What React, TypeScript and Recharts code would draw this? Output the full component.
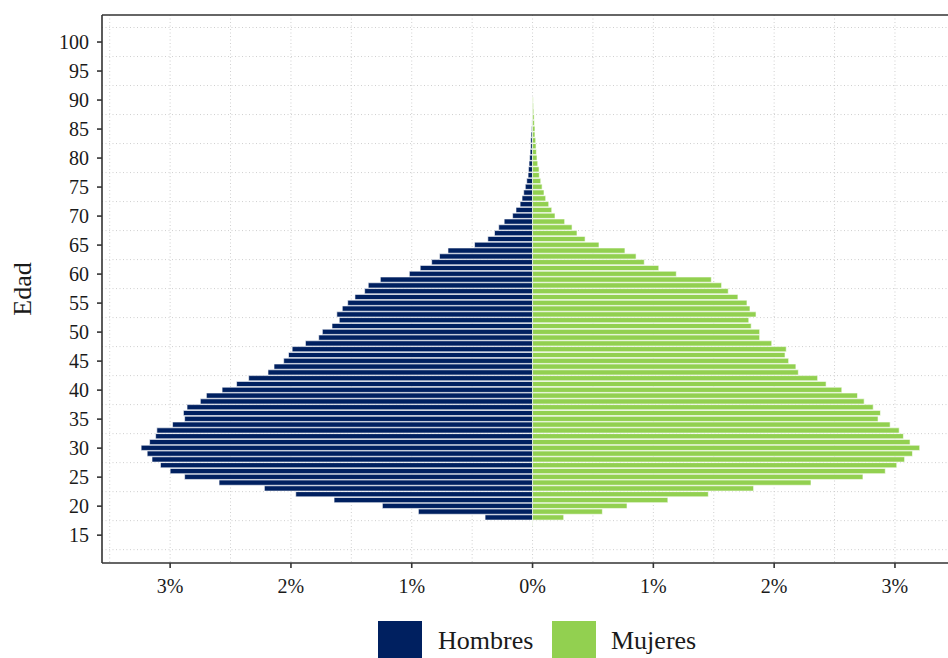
import React from 'react';
import { BarChart, Bar, XAxis, YAxis, ReferenceLine, CartesianGrid } from 'recharts';

const ages = [17, 18, 19, 20, 21, 22, 23, 24, 25, 26, 27, 28, 29, 30, 31, 32, 33, 34, 35, 36, 37, 38, 39, 40, 41, 42, 43, 44, 45, 46, 47, 48, 49, 50, 51, 52, 53, 54, 55, 56, 57, 58, 59, 60, 61, 62, 63, 64, 65, 66, 67, 68, 69, 70, 71, 72, 73, 74, 75, 76, 77, 78, 79, 80, 81, 82, 83, 84, 85, 86, 87, 88, 89, 90];

const hombres = [0.003, 0.393, 0.945, 1.243, 1.643, 1.96, 2.22, 2.595, 2.88, 3.0, 3.08, 3.15, 3.19, 3.24, 3.17, 3.12, 3.11, 2.98, 2.88, 2.89, 2.86, 2.75, 2.7, 2.57, 2.45, 2.35, 2.19, 2.14, 2.06, 2.02, 1.99, 1.88, 1.77, 1.74, 1.66, 1.6, 1.62, 1.575, 1.53, 1.47, 1.39, 1.36, 1.26, 1.02, 0.93, 0.835, 0.77, 0.7, 0.48, 0.37, 0.315, 0.28, 0.235, 0.165, 0.137, 0.103, 0.087, 0.073, 0.06, 0.048, 0.037, 0.034, 0.029, 0.024, 0.02, 0.015, 0.015, 0.012, 0.008, 0.005, 0.003, 0.002, 0.001, 0.0005];

const mujeres = [0.003, 0.258, 0.578, 0.782, 1.12, 1.455, 1.83, 2.305, 2.735, 2.92, 3.015, 3.08, 3.145, 3.205, 3.125, 3.07, 3.035, 2.96, 2.86, 2.88, 2.82, 2.745, 2.69, 2.56, 2.43, 2.36, 2.2, 2.18, 2.12, 2.09, 2.1, 1.98, 1.88, 1.88, 1.81, 1.79, 1.85, 1.8, 1.775, 1.7, 1.62, 1.565, 1.48, 1.19, 1.045, 0.925, 0.857, 0.765, 0.55, 0.435, 0.368, 0.327, 0.266, 0.186, 0.159, 0.134, 0.109, 0.095, 0.079, 0.068, 0.056, 0.054, 0.043, 0.037, 0.032, 0.029, 0.026, 0.02, 0.02, 0.015, 0.013, 0.01, 0.008, 0.005];

const xTicks = [-3, -2, -1, 0, 1, 2, 3];
const yTicks = [15, 20, 25, 30, 35, 40, 45, 50, 55, 60, 65, 70, 75, 80, 85, 90, 95, 100];
const xGrid = [-3.5, -3, -2.5, -2, -1.5, -1, -0.5, 0, 0.5, 1, 1.5, 2, 2.5, 3];
const yGrid = [12.5, 15, 17.5, 20, 22.5, 25, 27.5, 30, 32.5, 35, 37.5, 40, 42.5, 45, 47.5, 50, 52.5, 55, 57.5, 60, 62.5, 65, 67.5, 70, 72.5, 75, 77.5, 80, 82.5, 85, 87.5, 90, 92.5, 95, 97.5, 100, 102.5];

const seriesNames = ['Hombres', 'Mujeres'];
const seriesColors = ['#002060', '#92D050'];

const X_DOMAIN: [number, number] = [-3.564, 3.497];
const Y_DOMAIN: [number, number] = [10.2, 104.66];

const data = ages.map((a, i) => ({ edad: a, hombres: -hombres[i], mujeres: mujeres[i] }));

const FONT = '"Liberation Serif", "Times New Roman", serif';
const TEXT = '#1a1a1a';
const AXIS = '#333333';
const GRID = '#cfcfcf';

export default function App() {
  return (
    <div style={{ position: 'relative', width: 948, height: 658, overflow: 'hidden', background: '#fff' }}>
      <style>{`html,body{margin:0;padding:0;overflow:hidden;background:#fff}`}</style>
      <BarChart
        width={960}
        height={658}
        data={data}
        layout="vertical"
        stackOffset="sign"
        barCategoryGap={0}
        margin={{ top: 15, right: 5, bottom: 0, left: 0 }}
      >
        <CartesianGrid
          horizontalValues={yGrid}
          verticalValues={xGrid}
          stroke={GRID}
          strokeWidth={1}
          strokeDasharray="1 2.5"
        />
        <XAxis
          type="number"
          domain={X_DOMAIN}
          allowDataOverflow
          ticks={xTicks}
          tickFormatter={(v: number) => `${Math.abs(Math.round(v))}%`}
          height={95}
          tickSize={5}
          tickMargin={11}
          axisLine={{ stroke: AXIS, strokeWidth: 1.6 }}
          tickLine={{ stroke: AXIS, strokeWidth: 1.6 }}
          tick={{ fill: TEXT, fontSize: 20, fontFamily: FONT }}
        />
        <YAxis
          type="number"
          dataKey="edad"
          domain={Y_DOMAIN}
          allowDataOverflow
          reversed
          ticks={yTicks}
          width={102}
          tickSize={5}
          tickMargin={8}
          axisLine={{ stroke: AXIS, strokeWidth: 1.6 }}
          tickLine={{ stroke: AXIS, strokeWidth: 1.6 }}
          tick={{ fill: TEXT, fontSize: 20, fontFamily: FONT }}
          label={{
            content: () => (
              <text
                x={22}
                y={289}
                transform="rotate(-90 22 289)"
                textAnchor="middle"
                dominantBaseline="central"
                fill={TEXT}
                fontSize={26}
                fontFamily={FONT}
              >
                Edad
              </text>
            ),
          }}
        />
        <ReferenceLine y={Y_DOMAIN[1]} stroke={AXIS} strokeWidth={1.6} />
        <Bar
          dataKey="hombres"
          name={seriesNames[0]}
          stackId="p"
          fill={seriesColors[0]}
          stroke="#ffffff"
          strokeWidth={0.6}
          barSize={5.2}
          isAnimationActive={false}
        />
        <Bar
          dataKey="mujeres"
          name={seriesNames[1]}
          stackId="p"
          fill={seriesColors[1]}
          stroke="#ffffff"
          strokeWidth={0.6}
          barSize={5.2}
          isAnimationActive={false}
        />
      </BarChart>
      {seriesNames.map((n, i) => (
        <React.Fragment key={n}>
          <div
            style={{
              position: 'absolute',
              left: i === 0 ? 378 : 552,
              top: 621,
              width: 44,
              height: 44,
              background: seriesColors[i],
            }}
          />
          <div
            style={{
              position: 'absolute',
              left: i === 0 ? 438 : 611,
              top: 626,
              fontFamily: FONT,
              fontSize: 26,
              lineHeight: '30px',
              color: TEXT,
              whiteSpace: 'nowrap',
            }}
          >
            {n}
          </div>
        </React.Fragment>
      ))}
    </div>
  );
}
